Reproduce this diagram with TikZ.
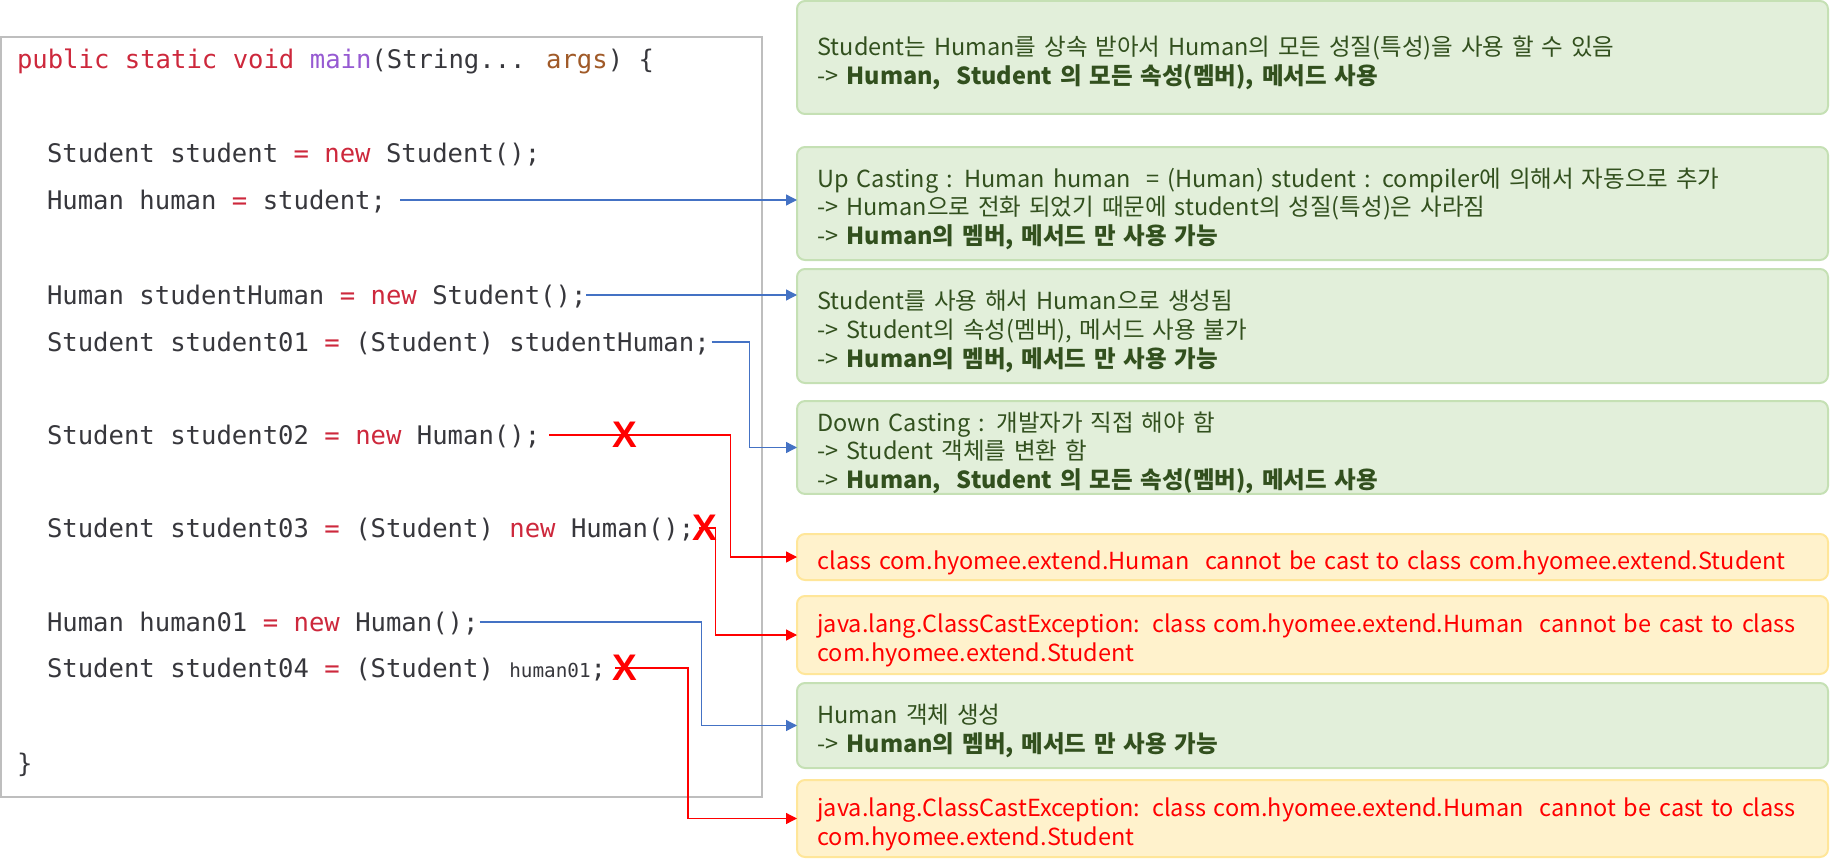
\documentclass[tikz,border=0pt]{standalone}
\usepackage{fontspec}
\usetikzlibrary{arrows.meta}
\newfontfamily\codefont{DejaVu Sans Mono}
\newfontfamily\krfont{Noto Sans CJK KR}
\newfontfamily\markfont{Liberation Sans}
\definecolor{kwred}{RGB}{205,40,60}
\definecolor{fnpurple}{RGB}{150,90,210}
\definecolor{argbrown}{RGB}{160,90,40}
\definecolor{codegray}{RGB}{55,55,60}
\definecolor{codeframe}{RGB}{190,190,190}
\definecolor{boxgreen}{RGB}{226,239,218}
\definecolor{boxgreenline}{RGB}{197,224,180}
\definecolor{txtgreen}{RGB}{50,80,30}
\definecolor{boxyellow}{RGB}{255,242,204}
\definecolor{boxyellowline}{RGB}{255,230,153}
\definecolor{lineblue}{RGB}{68,114,196}
\definecolor{linered}{RGB}{255,0,0}

\begin{document}
\begin{tikzpicture}[x=1pt, y=-1pt,
  every node/.style={inner sep=0pt, outer sep=0pt},
  codeline/.style={anchor=west, font=\codefont\fontsize{25.6}{30}\selectfont,
    text=codegray, text height=22pt, text depth=4pt},
  infobox/.style={draw=boxgreenline, fill=boxgreen, line width=2pt, rounded corners=8pt,
    text width=990pt, inner xsep=20.5pt, align=left,
    execute at begin node={\rule{0pt}{30pt}},
    font=\krfont\fontsize{23.5}{28.8}\selectfont, text=txtgreen},
  errbox/.style={infobox, draw=boxyellowline, fill=boxyellow, text=linered},
  upline/.style={draw=lineblue, line width=1.3pt, -{Triangle[length=11pt, width=11pt]}},
  errline/.style={draw=linered, line width=1.3pt, -{Triangle[length=11pt, width=11pt]}},
  xmark/.style={font=\markfont\bfseries\fontsize{37}{37}\selectfont, text=linered},
]
  \useasboundingbox (0,0) rectangle (1830,864);
  % Code panel
  \node[draw=codeframe, line width=2.5pt, minimum width=761pt, minimum height=760pt] (code) at (381.5, 417) {};
  \node[codeline] (l0) at (17, 60) {\textcolor{kwred}{public static void} \textcolor{fnpurple}{main}(String... \textcolor{argbrown}{args}) \{};
  \node[codeline] (l1) at (47, 153) {Student student \textcolor{kwred}{=} \textcolor{kwred}{new} Student();};
  \node[codeline] (l2) at (47, 200) {Human human \textcolor{kwred}{=} student;};
  \node[codeline] (l3) at (47, 295) {Human studentHuman \textcolor{kwred}{=} \textcolor{kwred}{new} Student();};
  \node[codeline] (l4) at (47, 342) {Student student01 \textcolor{kwred}{=} (Student) studentHuman;};
  \node[codeline] (l5) at (47, 435) {Student student02 \textcolor{kwred}{=} \textcolor{kwred}{new} Human();};
  \node[codeline] (l6) at (47, 528) {Student student03 \textcolor{kwred}{=} (Student) \textcolor{kwred}{new} Human();};
  \node[codeline] (l7) at (47, 622) {Human human01 \textcolor{kwred}{=} \textcolor{kwred}{new} Human();};
  \node[codeline] (l8) at (47, 668) {Student student04 \textcolor{kwred}{=} (Student) {\fontsize{19.3}{20}\selectfont human01};};
  \node[codeline] (l9) at (17, 763) {\}};
  % Explanation boxes
  \node[infobox, minimum height=113pt] (inherit) at (1312.5, 57.5)
    {Student는 Human를 상속 받아서 Human의 모든 성질(특성)을 사용 할 수 있음\\
     -> \textbf{Human,\ \ Student 의 모든 속성(멤버), 메서드 사용}};
  \node[infobox, minimum height=113pt] (upcast) at (1312.5, 203.5)
    {Up Casting : Human human\ \ = (Human) student : compiler에 의해서 자동으로 추가\\
     -> Human으로 전화 되었기 때문에 student의 성질(특성)은 사라짐\\
     -> \textbf{Human의 멤버, 메서드 만 사용 가능}};
  \node[infobox, minimum height=114pt] (newstu) at (1312.5, 326)
    {Student를 사용 해서 Human으로 생성됨\\
     -> Student의 속성(멤버), 메서드 사용 불가\\
     -> \textbf{Human의 멤버, 메서드 만 사용 가능}};
  \node[infobox, minimum height=91pt] (downcast) at (1312.5, 447.5)
    {Down Casting : 개발자가 직접 해야 함\\
     -> Student 객체를 변환 함\\
     -> \textbf{Human,\ \ Student 의 모든 속성(멤버), 메서드 사용}};
  \node[errbox, minimum height=46pt] (err1) at (1312.5, 557)
    {class com.hyomee.extend.Human\ \ cannot be cast to class com.hyomee.extend.Student};
  \node[errbox, minimum height=78pt] (err2) at (1312.5, 635)
    {java.lang.ClassCastException: class com.hyomee.extend.Human\ \ cannot be cast to class\\
     com.hyomee.extend.Student};
  \node[infobox, minimum height=85pt] (newhum) at (1312.5, 725.5)
    {Human 객체 생성\\
     -> \textbf{Human의 멤버, 메서드 만 사용 가능}};
  \node[errbox, minimum height=77pt] (err3) at (1312.5, 818.5)
    {java.lang.ClassCastException: class com.hyomee.extend.Human\ \ cannot be cast to class\\
     com.hyomee.extend.Student};
  % Connectors
  \draw[upline] ([xshift=14pt]l2.east) -- (l2 -| upcast.west);
  \draw[upline] (l3.east) -- (l3 -| newstu.west);
  \draw[upline] ([xshift=2pt]l4.east) -- ++(38,0) |- (downcast.west);
  \draw[errline] ([xshift=9pt]l5.east) -- ++(181,0) |- (err1.west);
  \draw[errline] ([xshift=5pt]l6.east) -- ++(16,0) |- (err2.west);
  \draw[upline] ([xshift=1pt]l7.east) -- ++(222,0) |- (newhum.west);
  \draw[errline] ([xshift=9pt]l8.east) -- ++(73,0) |- (err3.west);
  % Error marks
  \node[xmark] (x1) at (625, 435) {X};
  \node[xmark] (x2) at (705, 528) {X};
  \node[xmark] (x3) at (625, 668) {X};
\end{tikzpicture}
\end{document}
